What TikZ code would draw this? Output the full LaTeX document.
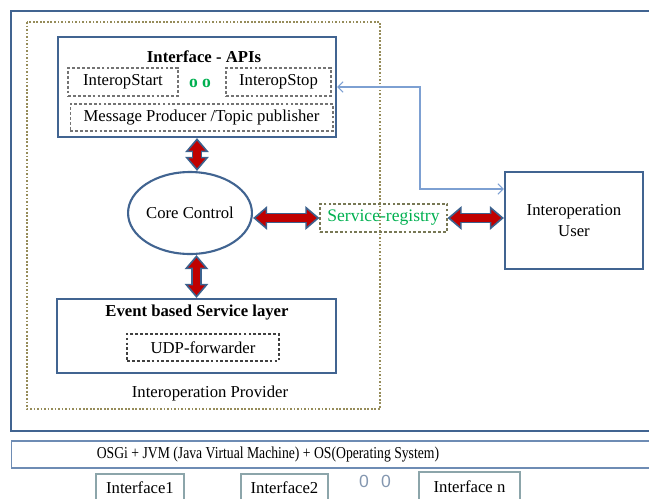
\documentclass[tikz,border=0pt]{standalone}
\usepackage{fontspec}
\setmainfont{Liberation Serif}
\newfontfamily\dotsfont{Liberation Sans}
\newfontfamily\narrowfont[FakeStretch=0.82]{Liberation Serif}
\usetikzlibrary{arrows.meta, positioning, shapes.geometric}
\definecolor{frameblue}{RGB}{65,100,145}
\definecolor{arrowblue}{RGB}{60,98,142}
\definecolor{darkred}{RGB}{192,0,0}
\definecolor{provolive}{RGB}{150,140,90}
\definecolor{regolive}{RGB}{120,120,85}
\definecolor{textgreen}{RGB}{0,176,80}
\definecolor{linkblue}{RGB}{125,160,210}
\definecolor{ifgray}{RGB}{140,165,170}
\definecolor{dotgray}{RGB}{132,151,176}
\definecolor{osgiblue}{RGB}{110,140,180}
\tikzset{
    txt/.style={font=\fontsize{9.5pt}{11.5pt}\selectfont, inner sep=0pt, align=center},
    bigbox/.style={txt, draw=frameblue, line width=1.2pt, rectangle},
    subbox/.style={txt, draw=black!55, dash pattern=on 1.6pt off 1.2pt, line width=0.6pt, rectangle},
    regbox/.style={txt, draw=regolive, dash pattern=on 1.6pt off 1.2pt, line width=0.6pt, rectangle, text=textgreen, font=\fontsize{10pt}{12pt}\selectfont},
    ifbox/.style={txt, draw=ifgray, line width=1.1pt, rectangle},
    fatback/.style={draw=arrowblue, line width=6pt, {Triangle[length=8pt,width=13pt]}-{Triangle[length=8pt,width=13pt]}},
    fatfront/.style={draw=darkred, line width=4pt, {Triangle[length=5.6pt,width=9.2pt]}-{Triangle[length=5.6pt,width=9.2pt]}, shorten <=1.6pt, shorten >=1.6pt},
    link/.style={draw=linkblue, line width=0.6pt, {Straight Barb[length=3pt,width=6pt]}-{Straight Barb[length=3pt,width=6pt]}}
}

\begin{document}
\begin{tikzpicture}[x=0.02cm, y=-0.02cm]
    \useasboundingbox (0,0) rectangle (649,498);
    % frames
    \draw[frameblue, line width=1.2pt] (670,11) -| (11,431) -- (670,431);
    \draw[provolive, line width=1.3pt, dash pattern=on 1pt off 1pt] (27,22) rectangle (380,409);
    \node[txt] (provider) at (210,393) {Interoperation Provider};

    % interface APIs
    \node[bigbox, minimum width=5.56cm, minimum height=2cm] (api) at (197,87) {};
    \node[txt, font=\fontsize{9.5pt}{11.5pt}\selectfont\bfseries] (apititle) at (204,57) {Interface - APIs};
    \node[subbox, minimum width=2.2cm, minimum height=0.56cm] (start) at (123,82) {InteropStart};
    \node[txt, text=textgreen, font=\fontsize{10pt}{12pt}\selectfont\bfseries] (apidots) at (200,83) {o o};
    \node[subbox, minimum width=2.1cm, minimum height=0.56cm] (stop) at (278.5,82) {InteropStop};
    \node[subbox, minimum width=5.26cm, minimum height=0.54cm] (producer) at (201.5,117.5) {Message Producer /Topic publisher};

    % core and service layer
    \node[txt, ellipse, draw=frameblue, line width=1.2pt, minimum width=2.42cm, minimum height=1.64cm] (core) at (190,213) {Core Control};
    \node[bigbox, minimum width=5.58cm, minimum height=1.48cm] (event) at (196.5,336) {};
    \node[txt, font=\fontsize{9.5pt}{11.5pt}\selectfont\bfseries] (eventtitle) at (197,313) {Event based Service layer};
    \node[subbox, draw=black!75, minimum width=3.04cm, minimum height=0.54cm] (udp) at (203,347.5) {UDP-forwarder};

    % registry and user
    \node[regbox, minimum width=2.54cm, minimum height=0.56cm] (registry) at (383.5,218) {Service-registry};
    \node[bigbox, minimum width=2.76cm, minimum height=1.94cm] (user) at (574,220.5) {Interoperation\\User};

    % platform
    \node[txt, draw=osgiblue, line width=0.6pt, rectangle, anchor=west, minimum width=13.2cm, minimum height=0.54cm] (osgi) at (11,454.5) {};
    \node[txt, font=\narrowfont\fontsize{9.5pt}{11.5pt}\selectfont] (osgitext) at (268,455) {OSGi + JVM (Java Virtual Machine) + OS(Operating System)};
    \node[ifbox, minimum width=1.76cm, minimum height=0.56cm] (if1) at (140,488) {Interface1};
    \node[ifbox, minimum width=1.74cm, minimum height=0.56cm] (if2) at (284.5,488) {Interface2};
    \node[txt, text=dotgray, font=\dotsfont\fontsize{10pt}{12pt}\selectfont] (ifdots) at (375,481) {0\hspace{7pt}0};
    \node[ifbox, minimum width=2.02cm, minimum height=0.6cm] (ifn) at (469.5,487) {Interface n};

    % connectors
    \foreach \layer in {fatback, fatfront} {
        \draw[\layer] (api.south) -- (api.south |- core.north);
        \draw[\layer] (event.north |- core.south) -- (event.north);
        \draw[\layer] (registry.west -| core.east) -- (registry.west);
        \draw[\layer] (registry.east) -- (registry.east -| user.west);
    }
    \coordinate (bend) at (420,189);
    \draw[link] (api.east) -| (bend) -- (bend -| user.west);
\end{tikzpicture}
\end{document}
